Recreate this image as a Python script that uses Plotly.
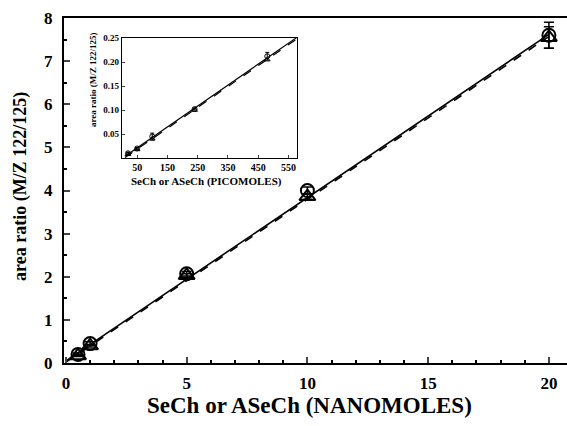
import plotly.graph_objects as go

# Main plot data (nanomoles)
nano_x = [0.5, 1, 5, 10, 20]
circle_y = [0.2, 0.45, 2.07, 4.0, 7.6]
circle_err = [0.03, 0.04, 0.05, 0.08, 0.3]
triangle_y = [0.17, 0.4, 2.03, 3.86, 7.55]
triangle_err = [0.02, 0.03, 0.04, 0.06, 0.25]
fit_x = [0, 20]
fit_circle_y = [0.05, 7.62]
fit_triangle_y = [0.02, 7.57]

# Inset data (picomoles)
pico_x = [20, 50, 100, 240, 480]
pico_circle_y = [0.01, 0.02, 0.045, 0.102, 0.212]
pico_circle_err = [0.002, 0.002, 0.007, 0.002, 0.008]
pico_triangle_y = [0.008, 0.018, 0.040, 0.100, 0.205]
pico_fit_x = [10, 580]
pico_fit_circle_y = [0.004, 0.252]
pico_fit_triangle_y = [0.001, 0.249]

main_ticks = [0, 5, 10, 15, 20]
y_ticks = [0, 1, 2, 3, 4, 5, 6, 7, 8]
inset_xticks = [50, 150, 250, 350, 450, 550]
inset_yticks = [0.05, 0.10, 0.15, 0.20, 0.25]

FONT = "Liberation Serif"
fig = go.Figure()

fig.add_trace(go.Scatter(x=fit_x, y=fit_circle_y, mode="lines",
                         line=dict(color="black", width=1.6), showlegend=False))
fig.add_trace(go.Scatter(x=fit_x, y=fit_triangle_y, mode="lines",
                         line=dict(color="black", width=1.6, dash="dash"), showlegend=False))
fig.add_trace(go.Scatter(x=nano_x, y=circle_y, mode="markers",
                         marker=dict(symbol="circle-open", size=13, color="black", line=dict(width=2)),
                         error_y=dict(type="data", array=circle_err, color="black", thickness=1.5, width=5),
                         showlegend=False))
fig.add_trace(go.Scatter(x=nano_x, y=triangle_y, mode="markers",
                         marker=dict(symbol="triangle-up-open", size=14, color="black", line=dict(width=2)),
                         error_y=dict(type="data", array=triangle_err, color="black", thickness=1.5, width=5),
                         showlegend=False))

# Inset
fig.add_trace(go.Scatter(x=pico_fit_x, y=pico_fit_circle_y, mode="lines", xaxis="x2", yaxis="y2",
                         line=dict(color="black", width=1.2), showlegend=False))
fig.add_trace(go.Scatter(x=pico_fit_x, y=pico_fit_triangle_y, mode="lines", xaxis="x2", yaxis="y2",
                         line=dict(color="black", width=1.2, dash="dash"), showlegend=False))
fig.add_trace(go.Scatter(x=pico_x, y=pico_circle_y, mode="markers", xaxis="x2", yaxis="y2",
                         marker=dict(symbol="circle-open", size=5, color="black", line=dict(width=1)),
                         error_y=dict(type="data", array=pico_circle_err, color="black", thickness=1, width=2),
                         showlegend=False))
fig.add_trace(go.Scatter(x=pico_x, y=pico_triangle_y, mode="markers", xaxis="x2", yaxis="y2",
                         marker=dict(symbol="triangle-up-open", size=5, color="black", line=dict(width=1)),
                         showlegend=False))

axis_common = dict(showgrid=False, zeroline=False, showline=True, linecolor="black",
                   mirror=True, automargin=False)

fig.update_layout(
    width=567, height=426,
    margin=dict(l=64, r=0, t=18, b=63),
    plot_bgcolor="white", paper_bgcolor="white",
    font=dict(family=FONT, color="black"),
    xaxis=dict(range=[-0.08, 20.75], tickvals=main_ticks, ticks="inside", ticklen=6,
               tickwidth=1.5, linewidth=2, ticklabelstandoff=4,
               minor=dict(dtick=1, ticks="inside", ticklen=3, tickcolor="black"),
               tickfont=dict(family=FONT, size=17, color="black", weight="bold"),
               **axis_common),
    yaxis=dict(range=[0, 8], tickvals=y_ticks, ticks="inside", ticklen=6, tickwidth=1.5,
               linewidth=2, ticklabelstandoff=6,
               minor=dict(dtick=0.5, ticks="inside", ticklen=3, tickcolor="black"),
               tickfont=dict(family=FONT, size=17, color="black", weight="bold"),
               **axis_common),
    xaxis2=dict(domain=[0.1153, 0.463], anchor="y2", range=[0, 578], tickvals=inset_xticks,
                ticks="inside", ticklen=3, linewidth=1.2, ticklabelstandoff=0,
                tickfont=dict(family=FONT, size=10, color="black", weight="bold"),
                **axis_common),
    yaxis2=dict(domain=[0.594, 0.942], anchor="x2", range=[0, 0.25], tickvals=inset_yticks,
                tickformat=".2f", ticks="inside", ticklen=3, linewidth=1.2,
                tickfont=dict(family=FONT, size=9, color="black", weight="bold"),
                **axis_common),
    annotations=[
        dict(text="<b>SeCh or ASeCh (NANOMOLES)</b>", xref="paper", yref="paper",
             x=0.489, y=-0.122, xanchor="center", yanchor="middle", showarrow=False,
             font=dict(family=FONT, size=23, color="black")),
        dict(text="<b>area ratio (M/Z 122/125)</b>", xref="paper", yref="paper",
             x=-0.0875, y=0.513, xanchor="center", yanchor="middle", showarrow=False, textangle=-90,
             font=dict(family=FONT, size=18, color="black")),
        dict(text="<b>SeCh or ASeCh (PICOMOLES)</b>", xref="paper", yref="paper",
             x=0.284, y=0.525, xanchor="center", yanchor="middle", showarrow=False,
             font=dict(family=FONT, size=11, color="black")),
        dict(text="<b>area ratio (M/Z 122/125)</b>", xref="paper", yref="paper",
             x=0.0577, y=0.820, xanchor="center", yanchor="middle", showarrow=False, textangle=-90,
             font=dict(family=FONT, size=9, color="black")),
    ],
)

fig.write_html("out.html", config={"displayModeBar": False},
               post_script="document.body.style.margin='0';document.body.style.overflow='hidden';")
